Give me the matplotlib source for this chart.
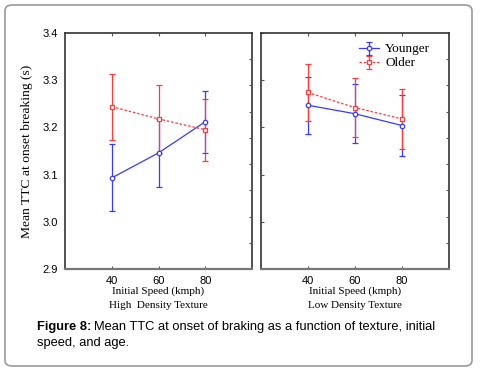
import matplotlib
matplotlib.use("Agg")
import matplotlib.pyplot as plt
from matplotlib.patches import FancyBboxPatch
import numpy as np

speeds = [40, 60, 80]
# High density texture
high_young = [3.093, 3.146, 3.212]
high_young_err = [0.071, 0.072, 0.066]
high_old = [3.244, 3.218, 3.195]
high_old_err = [0.070, 0.072, 0.066]
# Low density texture
low_young = [3.247, 3.229, 3.204]
low_young_err = [0.060, 0.062, 0.065]
low_old = [3.274, 3.242, 3.218]
low_old_err = [0.060, 0.062, 0.064]

yticks = [2.9, 3.0, 3.1, 3.2, 3.3, 3.4]
panel_titles = ["High  Density Texture", "Low Density Texture"]
xlabel = "Initial Speed (kmph)"
ylabel = "Mean TTC at onset breaking (s)"
legend_labels = ["Younger", "Older"]

blue = "#3a3aff"
red = "#ff3a3a"
serif = "Liberation Serif"
sans = "Liberation Sans"

fig = plt.figure(figsize=(4.8, 3.76), dpi=100)
fig.patch.set_facecolor("white")

# outer rounded border
box = FancyBboxPatch((5 / 480, 1 - 366 / 376), 467 / 480, 361 / 376,
                     boxstyle="round,pad=0,rounding_size=0.015",
                     transform=fig.transFigure, facecolor="none",
                     edgecolor="#9a9a9a", linewidth=1.2, zorder=-1)
fig.patches.append(box)

positions = [(65 / 480, 1 - 269 / 376, 187 / 480, 236 / 376),
             (260.7 / 480, 1 - 269 / 376, 188.3 / 480, 236 / 376)]
data = [(high_young, high_young_err, high_old, high_old_err),
        (low_young, low_young_err, low_old, low_old_err)]

for i, (pos, (yv, ye, ov, oe)) in enumerate(zip(positions, data)):
    ax = fig.add_axes(pos)
    ax.set_xlim(20, 100)
    ax.set_ylim(2.9, 3.4)
    hy = ax.errorbar(speeds, yv, yerr=ye, color=blue, lw=0.9, marker="o",
                     ms=3.2, mfc="white", mec=blue, mew=0.9, capsize=2.2,
                     capthick=0.9, elinewidth=0.9, label=legend_labels[0])
    ho = ax.errorbar(speeds, ov, yerr=oe, color=red, lw=0.9, ls=(0, (2, 1.5)),
                     marker="s", ms=3.2, mfc="white", mec=red, mew=0.9,
                     capsize=2.2, capthick=0.9, elinewidth=0.9,
                     label=legend_labels[1])
    for s in ax.spines.values():
        s.set_color("#333333")
        s.set_linewidth(1.2)
    ax.spines["bottom"].set_color("#777777")
    ax.spines["bottom"].set_linewidth(1.6)
    ax.set_xticks(speeds)
    ax.set_xticklabels([str(s) for s in speeds], fontsize=8, family=sans)
    ax.tick_params(axis="x", direction="in", length=2, width=0.8, pad=5,
                   top=True, colors="#555555", labelcolor="black")
    ax.set_yticks(yticks)
    if i == 0:
        ax.set_yticklabels([f"{v:.1f}" for v in yticks], fontsize=8, family=sans)
        ax.tick_params(axis="y", direction="in", length=0, pad=5)
        ax.set_ylabel(ylabel, family=serif, fontsize=9.7)
        ax.yaxis.set_label_coords(-0.171, 0.5)
    else:
        ax.set_yticklabels([])
        ax.tick_params(axis="y", direction="in", length=2, width=0.8,
                       colors="#555555")
    ax2 = ax.twinx()
    ax2.set_ylim(2.9, 3.4)
    ax2.set_yticks(np.linspace(2.9, 3.4, 10)[1:-1])
    ax2.set_yticklabels([])
    ax2.tick_params(axis="y", direction="in", length=2, width=0.8,
                    colors="#555555")
    for s in ax2.spines.values():
        s.set_visible(False)
    cx = pos[0] + pos[2] / 2
    fig.text(cx, 1 - 291 / 376, xlabel, family=serif, fontsize=8,
             ha="center", va="center")
    fig.text(cx, 1 - 306 / 376, panel_titles[i], family=serif, fontsize=8,
             ha="center", va="center")
    if i == 1:
        leg = ax2.legend(handles=[hy, ho], loc="upper right",
                         bbox_to_anchor=(0.95, 0.995), frameon=False,
                         prop={"family": serif, "size": 9.5},
                         handlelength=1.5, handletextpad=0.5,
                         handleheight=0.45,
                         labelspacing=0.15, borderpad=0.2)

t1 = fig.text(37 / 480, 1 - 327 / 376, "Figure 8:", family=sans, fontsize=9.3,
              fontweight="bold", va="center", ha="left")
fig.canvas.draw()
bb = t1.get_window_extent()
fig.text((bb.x1 + 3) / 480, 1 - 327 / 376,
         "Mean TTC at onset of braking as a function of texture, initial",
         family=sans, fontsize=9.3, va="center", ha="left")
fig.text(37 / 480, 1 - 343 / 376, "speed, and age.", family=sans,
         fontsize=9.3, va="center", ha="left")

fig.savefig("out.png", dpi=100, facecolor="white")
